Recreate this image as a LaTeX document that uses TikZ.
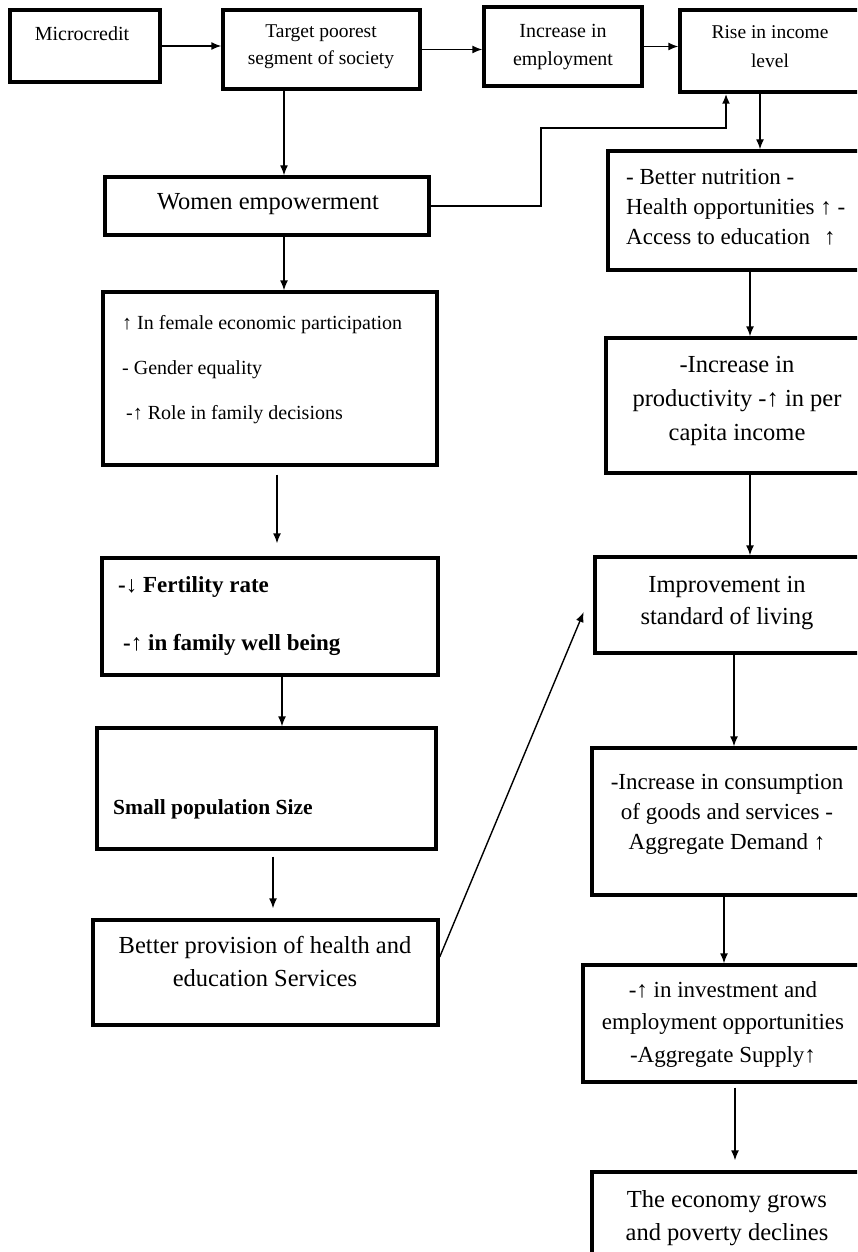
\documentclass[tikz,border=0pt]{standalone}
\usepackage{fontspec}
\setmainfont{Liberation Serif}
\usetikzlibrary{arrows.meta,calc}
\newcommand{\setfs}[2]{\fontsize{#1pt}{#2pt}\selectfont}
\tikzset{
  box/.style={draw, line width=3.4pt, inner sep=0pt, line join=miter},
  arr/.style={line width=1.4pt, -{Latex[length=10pt,width=8pt]}},
  link/.style={line width=2pt, -{Latex[length=10pt,width=8pt]}},
  lbl/.style={inner sep=0pt, text=black},
}
\begin{document}
\begin{tikzpicture}[x=1pt,y=-1pt]
\useasboundingbox (0,0) rectangle (857,1252);
\clip (0,0) rectangle (857,1252);
\fill[white] (0,0) rectangle (857,1252);

% helper coordinates
\coordinate (h284) at (284,0);
\coordinate (h277) at (277,0);
\coordinate (h282) at (282,0);
\coordinate (h273) at (273,0);
\coordinate (h726) at (726,0);
\coordinate (h760) at (760,0);
\coordinate (h750) at (750,0);
\coordinate (h734) at (734,0);
\coordinate (h724) at (724,0);
\coordinate (h735) at (735,0);
\coordinate (v957) at (0,957);
\coordinate (v589) at (0,589);
\coordinate (bend) at (541,128);

% boxes
\node[box, minimum width=150pt, minimum height=72pt] (micro) at (85,46) {};
\node[box, minimum width=197pt, minimum height=79pt] (target) at (321.5,49.5) {};
\node[box, minimum width=158pt, minimum height=79pt] (emp) at (563,46.5) {};
\node[box, minimum width=182pt, minimum height=82pt] (rise) at (771,51) {};
\node[box, minimum width=324pt, minimum height=58pt] (women) at (267,206) {};
\node[box, minimum width=254pt, minimum height=119pt] (nutr) at (735,210.5) {};
\node[box, minimum width=334pt, minimum height=173pt] (female) at (270,378.5) {};
\node[box, minimum width=336pt, minimum height=117pt] (fert) at (270,616.5) {};
\node[box, minimum width=339pt, minimum height=121pt] (small) at (266.5,788.5) {};
\node[box, minimum width=345pt, minimum height=105pt] (better) at (265.5,972.5) {};
\node[box, minimum width=256pt, minimum height=135pt] (prod) at (734,405.5) {};
\node[box, minimum width=267pt, minimum height=96pt] (impr) at (728.5,605) {};
\node[box, minimum width=270pt, minimum height=147pt] (cons) at (727,821.5) {};
\node[box, minimum width=279pt, minimum height=117pt] (inv) at (722.5,1023.5) {};
\node[box, minimum width=270pt, minimum height=128pt] (econ) at (727,1236) {};

% texts (base = baseline of the last line)
\node[lbl, anchor=base, font=\setfs{20}{24}] (micro-t) at (82,41) {Microcredit};
\node[lbl, anchor=base, align=center, font=\setfs{19.5}{27}] (target-t) at (321,65) {Target poorest\\segment of society};
\node[lbl, anchor=base, align=center, font=\setfs{20}{28}] (emp-t) at (563,66) {Increase in\\employment};
\node[lbl, anchor=base, align=center, font=\setfs{19.5}{29}] (rise-t) at (770,68) {Rise in income\\level};
\node[lbl, anchor=base, font=\setfs{24.5}{29}] (women-t) at (268,210) {Women empowerment};
\node[lbl, anchor=base west, align=left, font=\setfs{23}{30}] (nutr-t) at (626,244) {- Better nutrition -\\Health opportunities ↑ -\\Access to education\hspace{14pt}↑};
\node[lbl, anchor=base west, align=left, font=\setfs{20}{45}] (female-t) at (122,419) {↑ In female economic participation\\- Gender equality\\\hspace{4pt}-↑ Role in family decisions};
\node[lbl, anchor=base west, align=left, font=\bfseries\setfs{23}{58}] (fert-t) at (118,650) {-↓ Fertility rate\\\hspace{5pt}-↑ in family well being};
\node[lbl, anchor=base west, font=\bfseries\setfs{21.5}{26}] (small-t) at (113,814) {Small population Size};
\node[lbl, anchor=base, align=center, font=\setfs{24.5}{33}] (better-t) at (265,986) {Better provision of health and\\education Services};
\node[lbl, anchor=base, align=center, font=\setfs{24.5}{34}] (prod-t) at (737,440) {-Increase in\\productivity -↑ in per\\capita income};
\node[lbl, anchor=base, align=center, font=\setfs{24.5}{32}] (impr-t) at (727,624) {Improvement in\\standard of living};
\node[lbl, anchor=base, align=center, font=\setfs{23}{30}] (cons-t) at (727,849) {-Increase in consumption\\of goods and services -\\Aggregate Demand ↑};
\node[lbl, anchor=base, align=center, font=\setfs{23}{32.5}] (inv-t) at (723,1062) {-↑ in investment and\\employment opportunities\\-Aggregate Supply↑};
\node[lbl, anchor=base, align=center, font=\setfs{24.5}{33}] (econ-t) at (727,1240) {The economy grows\\and poverty declines};

% connectors
\draw[arr] (micro.east) -- (micro.east -| target.west);
\draw[arr] (target.east) -- (target.east -| emp.west);
\draw[arr] (emp.east) -- (emp.east -| rise.west);
\draw[arr] (target.south -| h284) -- (women.north -| h284);
\draw[link] (women.east) -| (bend) -| (rise.south -| h726);
\draw[arr] (women.south -| h284) -- (female.north -| h284);
\draw[arr, shorten <=8pt, shorten >=13pt] (female.south -| h277) -- (fert.north -| h277);
\draw[arr] (fert.south -| h282) -- (small.north -| h282);
\draw[arr, shorten <=6pt, shorten >=10pt] (small.south -| h273) -- (better.north -| h273);
\draw[arr, shorten >=25pt] (better.east |- v957) -- (impr.west |- v589);
\draw[arr] (rise.south -| h760) -- (nutr.north -| h760);
\draw[arr] (nutr.south -| h750) -- (prod.north -| h750);
\draw[arr] (prod.south -| h750) -- (impr.north -| h750);
\draw[arr] (impr.south -| h734) -- (cons.north -| h734);
\draw[arr] (cons.south -| h724) -- (inv.north -| h724);
\draw[arr, shorten <=4pt, shorten >=10pt] (inv.south -| h735) -- (econ.north -| h735);
\end{tikzpicture}
\end{document}
